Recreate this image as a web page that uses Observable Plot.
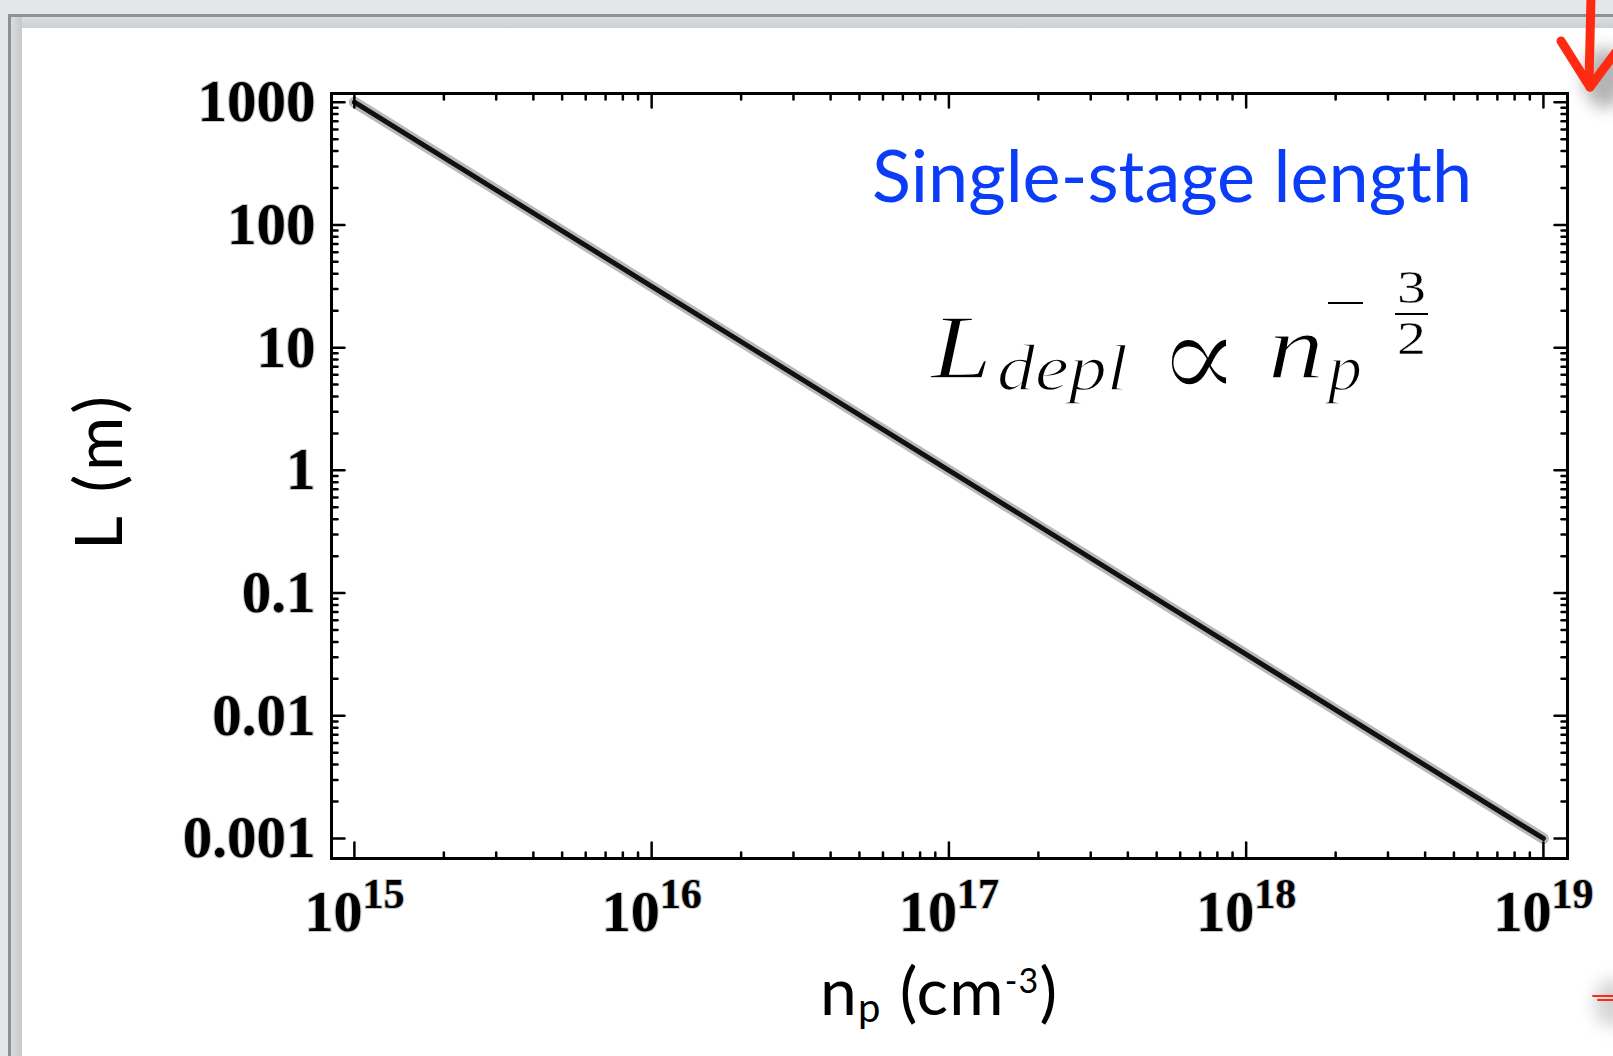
<!DOCTYPE html>
<html>
<head>
<meta charset="utf-8">
<script src="https://cdn.jsdelivr.net/npm/d3@7"></script>
<script src="https://cdn.jsdelivr.net/npm/@observablehq/plot@0.6"></script>
<style>
  html, body { margin: 0; padding: 0; width: 1613px; height: 1056px; overflow: hidden; background: #e5e6e9; }
  #panel { position: absolute; left: 8px; top: 14px; width: 1620px; height: 1060px; background: #fff;
           border-left: 3px solid #8e9094; border-top: 3px solid #8e9094; }
  #bevelTop { position: absolute; left: 11px; top: 17px; width: 1610px; height: 11px;
              background: linear-gradient(#dcdee1, #cdd0d3); }
  #bevelLeft { position: absolute; left: 11px; top: 17px; width: 11px; height: 1050px;
               background: linear-gradient(90deg, #dadcdf, #c6c8cb); }
  #chart { position: absolute; left: 0; top: 0; }
  #deco { position: absolute; left: 0; top: 0; pointer-events: none; }
</style>
</head>
<body>
<div id="panel"></div>
<div id="bevelTop"></div>
<div id="bevelLeft"></div>
<div id="chart"></div>
<svg id="deco" width="1613" height="1056"></svg>
<script>
// Depletion-limited single-stage length vs plasma density (log-log)
const density = [1e15, 1e16, 1e17, 1e18, 1e19];          // n_p (cm^-3)
const stageLength = [1000, 31.6, 1, 0.0316, 0.001];      // L (m)

const xTicks = [1e15, 1e16, 1e17, 1e18, 1e19];
const xTickExponents = ["15", "16", "17", "18", "19"];
const yTicks = [0.001, 0.01, 0.1, 1, 10, 100, 1000];
const yTickLabels = ["0.001", "0.01", "0.1", "1", "10", "100", "1000"];

const rows = density.map((d, i) => ({density: d, length: stageLength[i]}));

// minor ticks at 2..9 within each decade
const minorOf = (majors) => majors.slice(0, -1).flatMap(m => [2,3,4,5,6,7,8,9].map(k => m * k));
const xMinor = minorOf(xTicks);
const yMinor = minorOf(yTicks);

// inward tick shape for Plot.vector
const tickShape = {draw(ctx, l) { ctx.moveTo(0, 0); ctx.lineTo(0, -l); }};
const inward = (data, channel, frameAnchor, rotate, length) =>
  Plot.vector(data, {[channel]: d => d, frameAnchor, rotate, length, anchor: "start",
                     shape: tickShape, stroke: "#000", strokeWidth: 2.5});

const serif = "'Liberation Serif', 'Times New Roman', serif";

const chart = Plot.plot({
  width: 1613,
  height: 1056,
  marginLeft: 331,
  marginRight: 46,
  marginTop: 93,
  marginBottom: 198,
  style: {background: "transparent", fontFamily: serif, overflow: "visible", color: "#000"},
  x: {type: "log", domain: [10 ** 14.923, 10 ** 19.081]},
  y: {type: "log", domain: [10 ** -3.163, 10 ** 3.071]},
  marks: [
    Plot.line(rows, {x: "density", y: "length", stroke: "#8a8a8a", strokeWidth: 11, strokeOpacity: 0.6}),
    Plot.line(rows, {x: "density", y: "length", stroke: "#111", strokeWidth: 5}),
    inward(xTicks, "x", "bottom", 0, 16),
    inward(xMinor, "x", "bottom", 0, 6),
    inward(xTicks, "x", "top", 180, 14),
    inward(xMinor, "x", "top", 180, 6),
    inward(yTicks, "y", "left", 90, 13),
    inward(yMinor, "y", "left", 90, 6),
    inward(yTicks, "y", "right", -90, 13),
    inward(yMinor, "y", "right", -90, 6),
    Plot.frame({stroke: "#000", strokeWidth: 3}),
    Plot.axisX({ticks: xTicks, tickFormat: d => "10^" + xTickExponents[xTicks.indexOf(d)],
                tickSize: 0, tickPadding: 31, fontSize: 58, fontWeight: "bold", label: null}),
    Plot.axisY({ticks: yTicks, tickFormat: d => yTickLabels[yTicks.indexOf(d)],
                tickSize: 0, tickPadding: 16, fontSize: 59, fontWeight: "bold", label: null})
  ]
});
document.getElementById("chart").appendChild(chart);

const svg = d3.select(chart);

// soft halo on the tick labels
svg.selectAll("g[aria-label='x-axis tick label'] text, g[aria-label='y-axis tick label'] text")
  .attr("stroke", "#c9c9c9").attr("stroke-width", 2.2).attr("paint-order", "stroke")
  .attr("font-family", serif);

// powers of ten with superscript exponents
svg.selectAll("g[aria-label='x-axis tick label'] text").each(function() {
  const [base, exp] = this.textContent.split("^");
  const t = d3.select(this);
  t.text(null);
  t.append("tspan").text(base);
  t.append("tspan").attr("dy", -23).attr("font-size", 42).text(exp);
});

const sans = "Lato, 'Open Sans', sans-serif";

// axis titles
svg.append("text")
  .attr("transform", "translate(122,550) rotate(-90)")
  .attr("text-anchor", "start")
  .attr("font-family", sans).attr("font-size", 66).attr("fill", "#000")
  .attr("textLength", 154).attr("lengthAdjust", "spacing")
  .text("L (m)");

const xt = svg.append("text").attr("x", 820).attr("y", 1015).attr("text-anchor", "start")
  .attr("font-family", sans).attr("font-size", 66).attr("fill", "#000")
  .attr("textLength", 237).attr("lengthAdjust", "spacing");
xt.append("tspan").text("n");
xt.append("tspan").attr("dy", 7).attr("font-size", 40).text("p");
xt.append("tspan").attr("dy", -7).text(" (cm");
xt.append("tspan").attr("dy", -22).attr("font-size", 34).text("-3");
xt.append("tspan").attr("dy", 22).text(")");

// heading inside the plot
svg.append("text").attr("x", 872).attr("y", 202).attr("text-anchor", "start")
  .attr("font-family", sans).attr("font-size", 72).attr("fill", "#0b3cf8")
  .text("Single-stage length");

// scaling law L_depl ∝ n_p^(-3/2), thin strokes in the style of TeX math
const math = svg.append("g").attr("font-family", serif).attr("fill", "#000").attr("text-anchor", "start");
const thin = (t, w) => t.attr("stroke", "#fff").attr("stroke-width", w).attr("paint-order", "fill");
const glyph = (s, x, y, size, width, italic = true, w = 1.4) =>
  thin(math.append("text").attr("x", x).attr("y", y).attr("font-size", size)
    .attr("font-style", italic ? "italic" : "normal")
    .attr("textLength", width).attr("lengthAdjust", "spacingAndGlyphs").text(s), w);
glyph("L", 931, 378, 90, 61);
glyph("depl", 997, 390, 66, 131);
thin(math.append("text").attr("x", 1199).attr("y", 399).attr("font-size", 124)
  .attr("font-family", "'DejaVu Serif', serif").attr("text-anchor", "middle").text("∝"), 3);
glyph("n", 1268, 378, 90, 56);
glyph("p", 1328, 390, 66, 34);
// superscript minus and the 3/2 fraction
math.append("line").attr("x1", 1328).attr("x2", 1363).attr("y1", 303).attr("y2", 303).attr("stroke", "#000").attr("stroke-width", 2.2);
glyph("3", 1397, 303, 46, 29, false, 0.4);
math.append("line").attr("x1", 1395).attr("x2", 1428).attr("y1", 314).attr("y2", 314).attr("stroke", "#000").attr("stroke-width", 2.2);
glyph("2", 1397, 354, 46, 29, false, 0.4);

// hand-drawn red pointer at the slide edge
const deco = d3.select("#deco");
const defs = deco.append("defs");
defs.append("filter").attr("id", "soft").attr("x", "-50%").attr("y", "-50%").attr("width", "200%").attr("height", "200%")
  .append("feGaussianBlur").attr("stdDeviation", 8);
deco.append("ellipse").attr("cx", 1605).attr("cy", 78).attr("rx", 22).attr("ry", 30)
  .attr("fill", "#777").attr("opacity", 0.55).attr("filter", "url(#soft)");
deco.append("ellipse").attr("cx", 1612).attr("cy", 1003).attr("rx", 18).attr("ry", 24)
  .attr("fill", "#888").attr("opacity", 0.35).attr("filter", "url(#soft)");
const red = deco.append("g").attr("stroke", "#ff2a12").attr("fill", "none").attr("stroke-linecap", "round");
red.append("path").attr("d", "M1591,-4 L1589,84").attr("stroke-width", 9);
red.append("path").attr("d", "M1561,41 L1590,87").attr("stroke-width", 9);
red.append("path").attr("d", "M1616,52 L1590,87").attr("stroke-width", 9);
red.append("path").attr("d", "M1593,996 L1616,996 M1598,1000 L1616,1000").attr("stroke-width", 2);
</script>
</body>
</html>
